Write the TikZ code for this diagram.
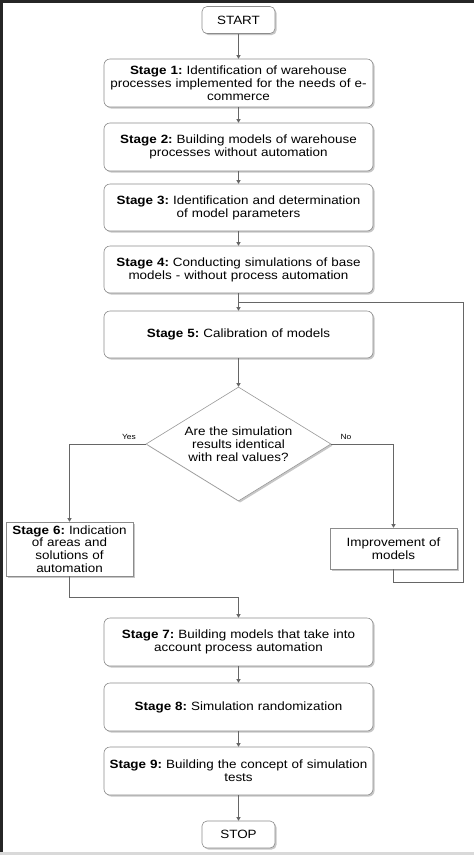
\documentclass[tikz,border=0pt]{standalone}
\usepackage{fontspec}
\setmainfont{Liberation Sans}[FakeStretch=1.12]
\usetikzlibrary{shapes.geometric,shadows,arrows.meta}
\frenchspacing
\begin{document}
\begin{tikzpicture}[x=1pt,y=-1pt,
  font=\fontsize{12}{12.8}\selectfont,
  box/.style={draw=black!45, line width=0.6pt, fill=white, align=center, inner sep=1pt,
    drop shadow={shadow xshift=1.6pt, shadow yshift=-1.6pt, fill=black!22, opacity=1}},
  stagebox/.style={box, rounded corners=6pt, minimum width=269pt, text width=266pt},
  termbox/.style={box, rounded corners=5pt, minimum width=73pt, minimum height=27pt},
  sqbox/.style={box, minimum width=127pt, text width=125pt},
  dec/.style={draw=black!40, line width=0.6pt, fill=white, diamond, aspect=1.62, align=center,
    minimum width=185pt, minimum height=114pt, inner sep=0pt,
    drop shadow={shadow xshift=1.6pt, shadow yshift=-1.6pt, fill=black!22, opacity=1}},
  arr/.style={draw=black!60, line width=0.6pt, -{Triangle[width=4pt,length=3.5pt]}},
  ln/.style={draw=black!60, line width=0.6pt},
  lbl/.style={font=\fontsize{7.5}{8}\selectfont, inner sep=0pt}
]
\useasboundingbox (0,0) rectangle (474,855);
\fill[white] (0,0) rectangle (474,855);
\fill[black!85] (0,0) rectangle (474,2.5);
\fill[black!85] (0,0) rectangle (2.5,855);
\fill[black!15] (0,851.5) rectangle (474,855);

\node[termbox] (start) at (238.5,20) {START};
\node[stagebox, minimum height=48pt] (s1) at (238.5,83) {\textbf{Stage 1:} Identification of warehouse\\processes implemented for the needs of e-\\commerce};
\node[stagebox, minimum height=48pt] (s2) at (238.5,147) {\textbf{Stage 2:} Building models of warehouse\\processes without automation};
\node[stagebox, minimum height=47pt] (s3) at (238.5,207.5) {\textbf{Stage 3:} Identification and determination\\of model parameters};
\node[stagebox, minimum height=47pt] (s4) at (238.5,269.5) {\textbf{Stage 4:} Conducting simulations of base\\models - without process automation};
\node[stagebox, minimum height=47pt] (s5) at (238.5,334.5) {\textbf{Stage 5:} Calibration of models};
\node[dec] (d) at (238.5,444) {Are the simulation\\results identical\\with real values?};
\node[sqbox, minimum height=54pt] (s6) at (69.5,549) {\textbf{Stage 6:} Indication\\of areas and\\solutions of\\automation};
\node[sqbox, minimum height=41pt] (imp) at (393.5,548.5) {Improvement of\\models};
\node[stagebox, minimum height=48pt] (s7) at (238.5,642) {\textbf{Stage 7:} Building models that take into\\account process automation};
\node[stagebox, minimum height=48pt] (s8) at (238.5,707) {\textbf{Stage 8:} Simulation randomization};
\node[stagebox, minimum height=48pt] (s9) at (238.5,771) {\textbf{Stage 9:} Building the concept of simulation\\tests};
\node[termbox] (stop) at (238.5,834.5) {STOP};

\node[lbl] (yes) at (129,436.5) {Yes};
\node[lbl] (no) at (346,436.5) {No};

\coordinate (fb1) at (463,582);
\coordinate (fb2) at (238.5,302);
\coordinate (j) at (238.5,597);

\draw[arr] (start) -- (s1);
\draw[arr] (s1) -- (s2);
\draw[arr] (s2) -- (s3);
\draw[arr] (s3) -- (s4);
\draw[arr] (s4) -- (s5);
\draw[arr] (s5) -- (d);
\draw[arr] (d.west) -| (s6.north);
\draw[arr] (d.east) -| (imp.north);
\draw[ln] (imp.south) |- (fb1) |- (fb2);
\draw[arr] (s6.south) |- (j) -- (s7.north);
\draw[arr] (s7) -- (s8);
\draw[arr] (s8) -- (s9);
\draw[arr] (s9) -- (stop);
\end{tikzpicture}
\end{document}
